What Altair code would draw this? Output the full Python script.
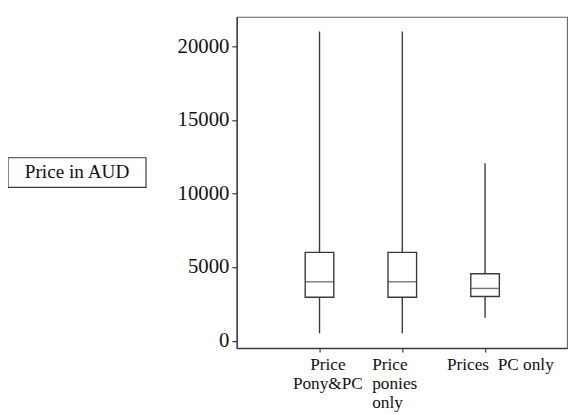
import json
import altair as alt
import pandas as pd

# ---- data ----
categories = ["Price Pony&PC", "Price ponies only", "Prices PC only"]
label_lines = [["Price", "Pony&PC"], ["Price", "ponies", "only"], ["Prices\u2002PC only"]]
whisker_low = [500, 500, 1550]
q1 = [2950, 2950, 3000]
median = [4000, 4000, 3550]
q3 = [6000, 6000, 4550]
whisker_high = [21000, 21000, 12050]
y_ticks = [0, 5000, 10000, 15000, 20000]
y_title = "Price in AUD"

positions = list(range(1, len(categories) + 1))
df = pd.DataFrame({
    "cat": categories, "pos": positions, "lo": whisker_low, "q1": q1,
    "med": median, "q3": q3, "hi": whisker_high,
})

FONT = "Liberation Serif"
INK = "#3a3a3a"

# axis label expression built from the label lists
expr = "".join(
    f"datum.value == {p} ? {json.dumps(l)} : " for p, l in zip(positions, label_lines)
) + "''"

xscale = alt.Scale(domain=[0, 3.99], nice=False, zero=False, padding=0)
yscale = alt.Scale(domain=[-500, 22000], nice=False, zero=False, padding=0)

x_axis = alt.Axis(
    values=positions, labelExpr=expr, title=None, grid=False,
    labelFont=FONT, labelFontSize=17.5, labelColor="#111", labelLineHeight=19,
    labelBaseline="top", labelPadding=4, tickSize=4, tickColor=INK, tickWidth=1.2,
    domainColor=INK, domainWidth=1.4, labelOverlap=False, labelBound=False, labelFlush=False,
    labelAlign={"condition": {"test": "datum.value == 2", "value": "left"}, "value": "center"},
    labelOffset={"condition": [{"test": "datum.value == 1", "value": 8},
                               {"test": "datum.value == 2", "value": -31}], "value": 15},
)
y_axis = alt.Axis(
    values=y_ticks, format="d", title=None, grid=False, labelFont=FONT, labelFontSize=21,
    labelColor="#111", labelPadding=3, tickSize=5, tickColor=INK, tickWidth=1.2,
    domainColor=INK, domainWidth=1.4, labelFlush=False, labelBound=False,
)

base = alt.Chart(df)
whiskers = base.mark_rule(color=INK, strokeWidth=1.4).encode(
    x=alt.X("pos:Q", scale=xscale, axis=x_axis),
    y=alt.Y("lo:Q", scale=yscale, axis=y_axis),
    y2="hi:Q",
)
boxes = base.mark_bar(size=29, fill="white", stroke=INK, strokeWidth=1.4).encode(
    x="pos:Q", y="q1:Q", y2="q3:Q",
)
medians = base.mark_tick(size=29, thickness=1.4, color=INK, orient="horizontal").encode(
    x="pos:Q", y="med:Q",
)

ann = alt.Chart(pd.DataFrame({"t": [y_title]}))
title_box = ann.mark_rect(fill="white", stroke=INK, strokeWidth=1.2).encode(
    x=alt.value(-232), x2=alt.value(-92), y=alt.value(143), y2=alt.value(173),
)
title_text = ann.mark_text(font=FONT, fontSize=19.5, color="#111", baseline="middle").encode(
    x=alt.value(-162), y=alt.value(158), text="t:N",
)

chart = alt.layer(whiskers, boxes, medians, title_box, title_text).properties(
    width=335, height=336,
    autosize=alt.AutoSizeParams(type="none"),
    padding={"left": 232, "top": 6, "right": 1, "bottom": 64},
    background="white",
).configure_view(stroke="#666", strokeWidth=1.1)

chart.save("out.html", embed_options={"renderer": "svg", "actions": False})
